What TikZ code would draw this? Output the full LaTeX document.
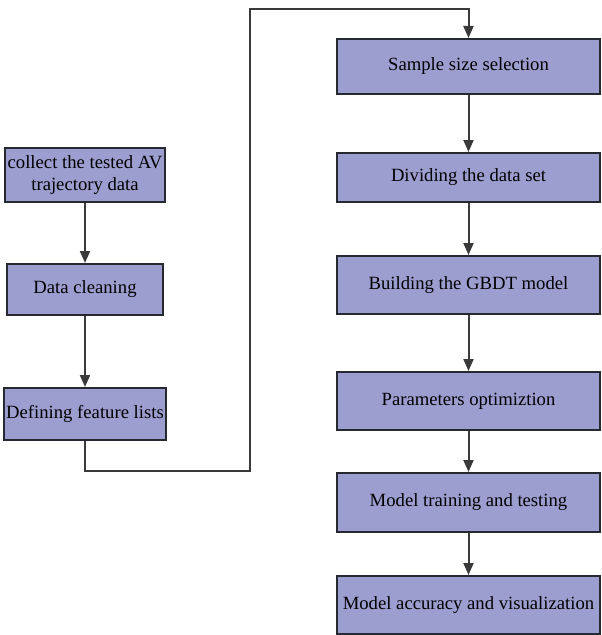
\documentclass[tikz,border=0pt]{standalone}
\usepackage{fontspec}
\setmainfont{Liberation Serif}
\usepackage{tikz}
\usetikzlibrary{arrows.meta}
\definecolor{boxfill}{HTML}{9C9ED0}
\definecolor{boxline}{HTML}{262A30}
\definecolor{arrowline}{HTML}{3A3A3A}
\tikzset{
  stage/.style={draw=boxline, fill=boxfill, line width=1.5pt, inner sep=2pt,
    align=center, text=black, font=\fontsize{14}{16.5}\selectfont},
  stageL/.style={stage, minimum width=117pt},
  stageR/.style={stage, minimum width=197.25pt},
  flow/.style={draw=arrowline, line width=1.5pt,
    -{Triangle[length=9pt,width=7.5pt]}}
}

\begin{document}
\begin{tikzpicture}[x=0.75pt,y=-0.75pt]
\useasboundingbox (0,0) rectangle (601,635);

% left column
\node[stageL, minimum height=40.5pt] (collect) at (85,175) {collect the tested AV\\trajectory data};
\node[stageL, minimum height=38.25pt] (cleaning) at (85,289.5) {Data cleaning};
\node[stageL, minimum height=39pt] (defining) at (85,414) {Defining feature lists};

% right column
\node[stageR, minimum height=41.25pt] (sample) at (468.5,66.5) {Sample size selection};
\node[stageR, minimum height=36.75pt] (dividing) at (468.5,177.5) {Dividing the data set};
\node[stageR, minimum height=43.5pt] (building) at (468.5,285) {Building the GBDT model};
\node[stageR, minimum height=43.5pt] (params) at (468.5,401) {Parameters optimiztion};
\node[stageR, minimum height=44.25pt] (training) at (468.5,502.5) {Model training and testing};
\node[stageR, minimum height=43.5pt] (accuracy) at (468.5,605) {Model accuracy and visualization};

\coordinate (turnA) at (250,471);
\coordinate (turnB) at (250,9);

\draw[flow] (collect) -- (cleaning);
\draw[flow] (cleaning) -- (defining);
\draw[flow] (defining.south) |- (turnA) -- (turnB) -| (sample.north);
\draw[flow] (sample) -- (dividing);
\draw[flow] (dividing) -- (building);
\draw[flow] (building) -- (params);
\draw[flow] (params) -- (training);
\draw[flow] (training) -- (accuracy);
\end{tikzpicture}
\end{document}
